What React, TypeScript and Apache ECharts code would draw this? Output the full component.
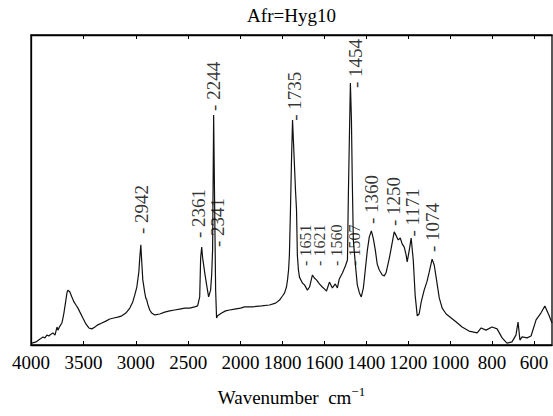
import React, { useEffect, useRef } from 'react';
import * as echarts from 'echarts';

// IR spectrum: wavenumber (cm-1) and relative absorbance (0..1 of frame height)
const wavenumbers = [
  3990, 3952, 3914, 3886, 3867, 3848, 3829, 3810, 3790, 3771, 3752, 3743, 3724, 3705, 3695, 3686,
  3667, 3657, 3648, 3629, 3610, 3590, 3571, 3552, 3533, 3505, 3476, 3448, 3419, 3390, 3362, 3324,
  3286, 3248, 3210, 3171, 3133, 3095, 3057, 3029, 3010, 2990, 2971, 2962, 2952, 2943, 2933, 2914,
  2905, 2895, 2886, 2867, 2848, 2819, 2771, 2724, 2676, 2629, 2581, 2533, 2486, 2438, 2410, 2390,
  2381, 2371, 2362, 2343, 2324, 2305, 2286, 2276, 2267, 2257, 2248, 2238, 2229, 2219, 2181, 2143,
  2105, 2057, 2000, 1981, 1943, 1900, 1862, 1833, 1814, 1800, 1790, 1781, 1776, 1771, 1767, 1762,
  1757, 1752, 1748, 1743, 1738, 1733, 1729, 1724, 1719, 1705, 1695, 1681, 1671, 1657, 1648, 1638,
  1624, 1610, 1600, 1590, 1576, 1562, 1548, 1538, 1529, 1514, 1500, 1490, 1486, 1481, 1476, 1471,
  1467, 1462, 1452, 1443, 1433, 1424, 1414, 1405, 1395, 1386, 1376, 1367, 1357, 1348, 1338, 1324,
  1314, 1305, 1290, 1281, 1267, 1257, 1248, 1238, 1229, 1219, 1210, 1205, 1195, 1186, 1176, 1167,
  1157, 1148, 1138, 1124, 1110, 1100, 1086, 1076, 1067, 1052, 1038, 1019, 995, 971, 943, 910,
  871, 852, 829, 800, 776, 752, 729, 705, 686, 676, 667, 657, 633, 614, 590, 567,
  548, 529, 514,
];
const absorbance = [
  0.006, 0.010, 0.019, 0.026, 0.023, 0.032, 0.029, 0.035, 0.039, 0.032, 0.058, 0.048, 0.061, 0.071, 0.087, 0.103,
  0.145, 0.168, 0.177, 0.171, 0.155, 0.139, 0.129, 0.119, 0.106, 0.087, 0.068, 0.055, 0.052, 0.058, 0.065, 0.071,
  0.077, 0.084, 0.087, 0.090, 0.094, 0.103, 0.119, 0.139, 0.161, 0.187, 0.235, 0.281, 0.323, 0.268, 0.210, 0.168,
  0.152, 0.145, 0.132, 0.113, 0.103, 0.097, 0.100, 0.106, 0.110, 0.113, 0.116, 0.119, 0.119, 0.123, 0.126, 0.155,
  0.281, 0.316, 0.281, 0.235, 0.194, 0.155, 0.177, 0.226, 0.306, 0.742, 0.468, 0.177, 0.087, 0.094, 0.103, 0.110,
  0.113, 0.116, 0.119, 0.123, 0.123, 0.126, 0.129, 0.135, 0.145, 0.158, 0.168, 0.187, 0.210, 0.242, 0.290, 0.435,
  0.597, 0.726, 0.661, 0.581, 0.500, 0.435, 0.290, 0.242, 0.219, 0.200, 0.194, 0.177, 0.187, 0.226, 0.216, 0.210,
  0.197, 0.187, 0.181, 0.174, 0.203, 0.184, 0.197, 0.184, 0.213, 0.232, 0.255, 0.274, 0.468, 0.661, 0.845, 0.726,
  0.532, 0.339, 0.258, 0.194, 0.168, 0.155, 0.184, 0.242, 0.306, 0.348, 0.368, 0.345, 0.306, 0.261, 0.242, 0.226,
  0.223, 0.235, 0.281, 0.313, 0.365, 0.352, 0.339, 0.345, 0.326, 0.316, 0.290, 0.268, 0.306, 0.345, 0.274, 0.161,
  0.094, 0.100, 0.139, 0.177, 0.206, 0.235, 0.277, 0.258, 0.219, 0.152, 0.119, 0.100, 0.087, 0.074, 0.058, 0.045,
  0.039, 0.055, 0.048, 0.058, 0.052, 0.023, 0.006, 0.010, 0.032, 0.074, 0.016, 0.026, 0.023, 0.029, 0.081, 0.103,
  0.126, 0.097, 0.071,
];

const tickWavenumbers = [4000, 3500, 3000, 2500, 2000, 1800, 1600, 1400, 1200, 1000, 800, 600];
const axisStartWn = 4000;
const axisEndWn = 514;

const peakLabels = ['2942', '2361', '2341', '2244', '1735', '1454', '1360', '1250', '1171', '1074'];
const peakLabelWn = [2943, 2400, 2219, 2257, 1743, 1452, 1376, 1271, 1181, 1086];
const peakLabelLevel = [0.358, 0.345, 0.316, 0.755, 0.723, 0.829, 0.39, 0.384, 0.35, 0.30];

const minorLabels = ['1651', '1621', '1560', '1507'];
const minorLabelWn = [1690, 1624, 1543, 1457];
const minorLabelLevel = [0.255, 0.255, 0.255, 0.255];

const titleText = 'Afr=Hyg10';

// IR chart convention: scale doubles below 2000 cm-1
function toT(w: number) {
  return w >= 2000 ? 4000 - w : 2000 + 2 * (2000 - w);
}
function fromT(t: number) {
  return t <= 2000 ? 4000 - t : 2000 - (t - 2000) / 2;
}

const SERIF = 'Liberation Serif';

export default function App() {
  const ref = useRef<HTMLDivElement>(null);
  useEffect(() => {
    if (!ref.current) return;
    const chart = echarts.init(ref.current, undefined, { renderer: 'svg' });
    const tickTs = tickWavenumbers.map(toT);
    const xMin = toT(axisStartWn);
    const xMax = toT(axisEndWn);
    const labelBase = {
      show: true,
      position: 'inside',
      rotate: 90,
      align: 'left',
      verticalAlign: 'middle',
      color: '#000',
      fontFamily: SERIF,
    };
    chart.setOption({
      animation: false,
      textStyle: { fontFamily: SERIF },
      grid: {
        left: 31,
        right: 1,
        top: 35,
        bottom: 71,
        show: true,
        borderColor: '#000',
        borderWidth: 1.3,
      },
      xAxis: [
        {
          type: 'value',
          min: xMin,
          max: xMax,
          position: 'bottom',
          name: 'Wavenumber  cm{sup|\u22121}',
          nameLocation: 'middle',
          nameGap: 52,
          nameTextStyle: {
            fontFamily: SERIF,
            fontSize: 19,
            color: '#000',
            verticalAlign: 'middle',
            rich: {
              sup: { fontFamily: SERIF, fontSize: 13, color: '#000', padding: [0, 0, 12, 0] },
            },
          },
          axisLine: { show: true, lineStyle: { color: '#000', width: 1.3 } },
          axisTick: { show: true, inside: true, length: 4, customValues: tickTs, lineStyle: { color: '#000' } },
          axisLabel: {
            show: true,
            customValues: tickTs,
            formatter: (v: number) => String(Math.round(fromT(v))),
            fontFamily: SERIF,
            fontSize: 19,
            color: '#000',
            margin: 8,
          },
          splitLine: { show: false },
        },
        {
          type: 'value',
          min: xMin,
          max: xMax,
          position: 'top',
          name: titleText,
          nameLocation: 'middle',
          nameGap: 20,
          nameTextStyle: { fontFamily: SERIF, fontSize: 19, color: '#000', verticalAlign: 'middle' },
          axisLine: { show: true, lineStyle: { color: '#000', width: 1.3 } },
          axisTick: { show: true, inside: true, length: 4, customValues: tickTs, lineStyle: { color: '#000' } },
          axisLabel: { show: false },
          splitLine: { show: false },
        },
      ],
      yAxis: {
        type: 'value',
        min: 0,
        max: 1,
        axisLine: { show: true, lineStyle: { color: '#000', width: 1.3 } },
        axisTick: { show: false },
        axisLabel: { show: false },
        splitLine: { show: false },
      },
      series: [
        {
          type: 'line',
          data: wavenumbers.map((w, i) => [toT(w), absorbance[i]]),
          symbol: 'none',
          showSymbol: false,
          lineStyle: { color: '#111', width: 1.2 },
          silent: true,
        },
        {
          type: 'scatter',
          symbolSize: 1,
          itemStyle: { color: 'transparent' },
          silent: true,
          data: peakLabels.map((s, i) => ({
            value: [toT(peakLabelWn[i]), peakLabelLevel[i]],
            label: { formatter: '- ' + s },
          })),
          label: { ...labelBase, fontSize: 19 },
        },
        {
          type: 'scatter',
          symbolSize: 1,
          itemStyle: { color: 'transparent' },
          silent: true,
          data: minorLabels.map((s, i) => ({
            value: [toT(minorLabelWn[i]), minorLabelLevel[i]],
            label: { formatter: '- ' + s },
          })),
          label: { ...labelBase, fontSize: 16 },
        },
      ],
    });
    return () => chart.dispose();
  }, []);
  return (
    <div
      ref={ref}
      style={{ position: 'absolute', left: 0, top: 0, width: 553, height: 416, background: '#fff' }}
    />
  );
}
